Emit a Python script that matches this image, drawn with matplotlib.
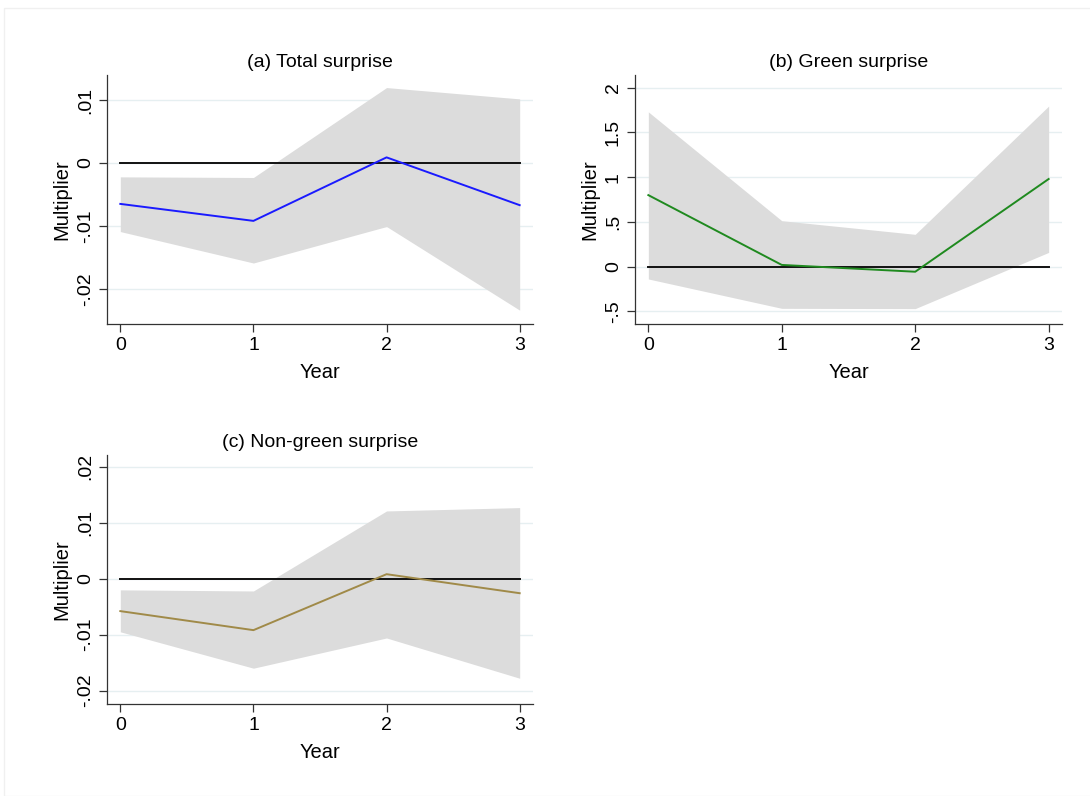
import matplotlib
matplotlib.use("Agg")
import matplotlib.pyplot as plt
from matplotlib.patches import Rectangle
from matplotlib.ticker import FuncFormatter

plt.rcParams['font.family'] = ['Liberation Sans', 'DejaVu Sans']

years = [0, 1, 2, 3]

# (a) total surprise
total_est = [-0.0065, -0.0092, 0.0009, -0.0067]
total_hi = [-0.0022, -0.0023, 0.0120, 0.0102]
total_lo = [-0.0109, -0.0159, -0.0101, -0.0234]

# (b) green surprise
green_est = [0.80, 0.02, -0.056, 0.98]
green_hi = [1.73, 0.514, 0.362, 1.795]
green_lo = [-0.137, -0.465, -0.468, 0.16]

# (c) non-green surprise
nongreen_est = [-0.0058, -0.0092, 0.0008, -0.0026]
nongreen_hi = [-0.0020, -0.0022, 0.0121, 0.0127]
nongreen_lo = [-0.0095, -0.0160, -0.0106, -0.0178]

total_ticks = [-0.02, -0.01, 0, 0.01]
green_ticks = [-0.5, 0, 0.5, 1, 1.5, 2]
nongreen_ticks = [-0.02, -0.01, 0, 0.01, 0.02]


# stata style number labels: .01, -.5, 0
def stata_fmt(v, pos):
    s = f"{v:g}"
    if s.startswith("0."):
        s = s[1:]
    elif s.startswith("-0."):
        s = "-" + s[2:]
    return s


def panel(ax, title, est, hi, lo, color, ticks, ylim):
    ax.fill_between(years, lo, hi, color="#dcdcdc", lw=0, zorder=1)
    ax.plot([years[0], years[-1]], [0, 0], color="#111111", lw=1.4, zorder=2)
    ax.plot(years, est, color=color, lw=1.4, zorder=3)
    for t in ticks:
        ax.axhline(t, color="#e6eff1", lw=1.0, zorder=0)
    ax.set_xlim(-0.1, 3.1)
    ax.set_ylim(*ylim)
    ax.set_xticks(years)
    ax.set_yticks(ticks)
    ax.yaxis.set_major_formatter(FuncFormatter(stata_fmt))
    for lab in ax.get_yticklabels():
        lab.set_rotation(90)
        lab.set_va("center")
    ax.tick_params(labelsize=14, length=6, width=0.9, color="#333333")
    ax.spines["top"].set_visible(False)
    ax.spines["right"].set_visible(False)
    for s in ("left", "bottom"):
        ax.spines[s].set_color("#333333")
        ax.spines[s].set_linewidth(0.9)
    ax.set_title(title, fontsize=14, pad=6)
    ax.set_xlabel("Year", fontsize=14.5, labelpad=6)
    ax.set_ylabel("Multiplier", fontsize=14.5, labelpad=4)


fig = plt.figure(figsize=(10.9, 7.96), dpi=100)
W, H = 1090, 796

# faint frame around the graph region
fig.patches.append(Rectangle((4 / W, 0), 1.0, 1 - 8 / H, transform=fig.transFigure,
                             fill=False, ec="#f0f0f0", lw=1.0))

ax_a = fig.add_axes([107 / W, 1 - 324 / H, 426 / W, 249 / H])
ax_b = fig.add_axes([635 / W, 1 - 324 / H, 427 / W, 249 / H])
ax_c = fig.add_axes([107 / W, 1 - 704 / H, 426 / W, 249 / H])

panel(ax_a, "(a) Total surprise", total_est, total_hi, total_lo,
      "#1a1aff", total_ticks, (-0.0256, 0.0140))
panel(ax_b, "(b) Green surprise", green_est, green_hi, green_lo,
      "#1f8a1f", green_ticks, (-0.64, 2.142))
panel(ax_c, "(c) Non-green surprise", nongreen_est, nongreen_hi, nongreen_lo,
      "#a08a48", nongreen_ticks, (-0.0224, 0.0221))

fig.savefig("out.png", dpi=100)
